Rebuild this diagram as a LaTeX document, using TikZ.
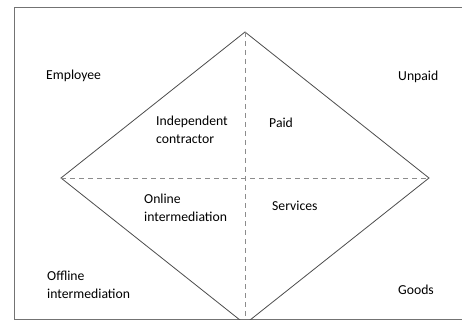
\documentclass[tikz,border=0pt]{standalone}
\usepackage{fontspec}
\setmainfont{Carlito}
\begin{document}
\begin{tikzpicture}[x=1pt,y=-1pt,
  lbl/.style={anchor=west,align=left,inner sep=0pt,text=black,
    font=\fontsize{13.7}{18}\selectfont},
  edge/.style={draw=black!70,line width=0.8pt},
  axis/.style={draw=black!45,line width=0.8pt,dashed,dash pattern=on 5pt off 4pt}]
\useasboundingbox (0,0) rectangle (462,320);
\clip (0,0) rectangle (462,320);
\draw[black!55,line width=0.8pt] (14,7) rectangle (475,319.5);

\coordinate (T) at (245,32);
\coordinate (L) at (61,178);
\coordinate (R) at (429,178);
\coordinate (B) at (245,324);

\draw[edge] (L) -- (T) -- (R) -- (B) -- cycle;
\draw[axis] (T) -- (B);
\draw[axis] (L) -- (R);

\node[lbl] (emp) at (46,76) {Employee};
\node[lbl] (unp) at (398,77) {Unpaid};
\node[lbl] (ind) at (156,130) {Independent\\contractor};
\node[lbl] (paid) at (269,123) {Paid};
\node[lbl] (onl) at (144,208) {Online\\intermediation};
\node[lbl] (serv) at (272,206) {Services};
\node[lbl] (off) at (47,285) {Offline\\intermediation};
\node[lbl] (goods) at (398,290) {Goods};
\end{tikzpicture}
\end{document}
